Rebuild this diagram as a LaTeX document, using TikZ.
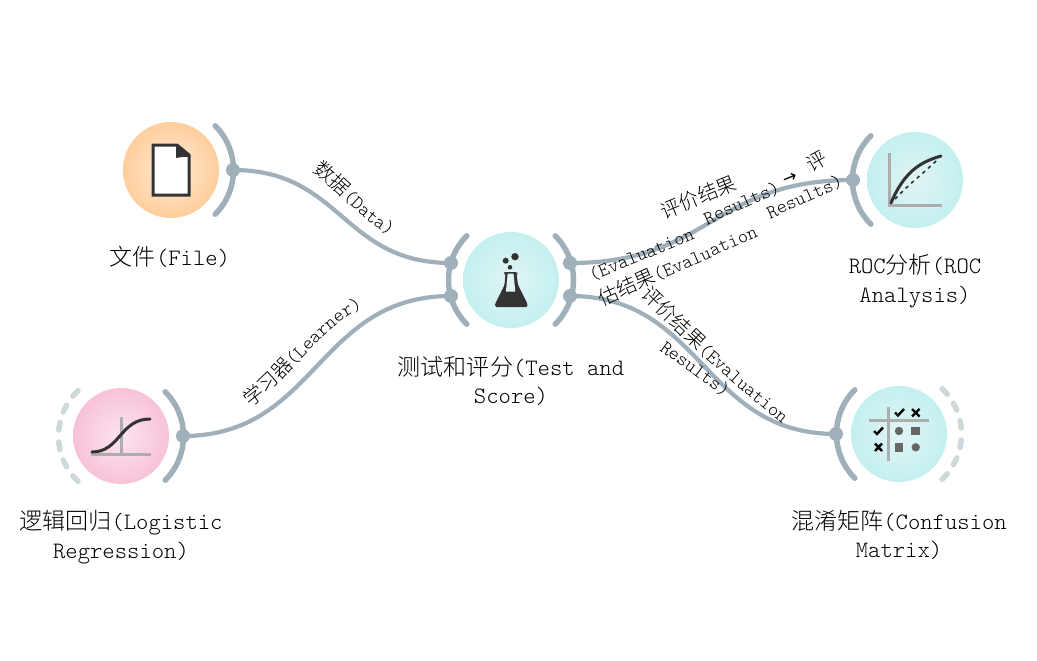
\documentclass[tikz,border=0pt]{standalone}
\usepackage{fontspec}
\usetikzlibrary{decorations.text}
\setmonofont{Latin Modern Mono Light}
\newfontfamily\cjk[Scale=0.98]{Noto Sans CJK SC Light}
\newfontfamily\arrowfont{DejaVu Sans}
\newcommand{\Z}[1]{{\cjk #1}}
\newcommand{\Lz}{\fontsize{20.4}{20.4}\selectfont\cjk}
\newcommand{\Lt}{\fontsize{19.3}{19.3}\selectfont\ttfamily}
\newcommand{\La}{\fontsize{17}{17}\selectfont\arrowfont}
\definecolor{wire}{HTML}{9FB0BA}
\definecolor{ghost}{HTML}{CFD8DB}
\definecolor{ink}{HTML}{333333}
\definecolor{axiscol}{HTML}{ADADAD}
\definecolor{markcol}{HTML}{666666}
\definecolor{tealin}{HTML}{E2F5F5}
\definecolor{tealout}{HTML}{C3F0EF}
\definecolor{orgin}{HTML}{FFEBD6}
\definecolor{orgout}{HTML}{FFCE9C}
\definecolor{pinkin}{HTML}{FBE4EF}
\definecolor{pinkout}{HTML}{F8C2D9}
\tikzset{
  widget/.style={circle,minimum size=96pt,inner sep=0pt,draw=none},
  tealw/.style={widget,inner color=tealin,outer color=tealout},
  orangew/.style={widget,inner color=orgin,outer color=orgout},
  pinkw/.style={widget,inner color=pinkin,outer color=pinkout},
  ear/.style={draw=wire,line width=5.5pt,line cap=round},
  ghostear/.style={draw=ghost,line width=5.5pt,line cap=round},
  portdot/.style={circle,fill=wire,minimum size=14pt,inner sep=0pt,draw=none},
  link/.style={draw=wire,line width=4.2pt},
  nametext/.style={font=\fontsize{23.5}{28.5}\selectfont\ttfamily,align=center,inner sep=0pt,text=black},
  along/.style={decorate,decoration={text along path,text={#1},text align=left}},
  axisline/.style={draw=axiscol,line width=3pt},
  curveline/.style={draw=ink,line width=3pt,line cap=round},
  ticks/.style={draw=black,line width=2.4pt},
}
\begin{document}
\begin{tikzpicture}[x=1pt,y=-1pt]
\useasboundingbox (0,0) rectangle (1037,661);
\fill[white] (0,0) rectangle (1037,661);

% widgets
\node[orangew] (file) at (171,170) {};
\node[pinkw] (logit) at (121,436) {};
\node[tealw] (test) at (511,280) {};
\node[tealw] (roc) at (915,180) {};
\node[tealw] (conf) at (899,434) {};

% ears
\draw[ear] (file.center) ++(-45:62.5pt) arc[start angle=-45,end angle=45,radius=62.5pt];
\draw[ear] (logit.center) ++(-45:62.5pt) arc[start angle=-45,end angle=45,radius=62.5pt];
\draw[ear] (test.center) ++(-45:62.5pt) arc[start angle=-45,end angle=45,radius=62.5pt];
\draw[ear] (test.center) ++(135:62.5pt) arc[start angle=135,end angle=225,radius=62.5pt];
\draw[ear] (roc.center) ++(135:62.5pt) arc[start angle=135,end angle=225,radius=62.5pt];
\draw[ear] (conf.center) ++(135:62.5pt) arc[start angle=135,end angle=225,radius=62.5pt];
\foreach \a in {-43,-26,-9,9,26,43}{
  \draw[ghostear] (conf.center) ++(\a-3.5:62.5pt) arc[start angle=\a-3.5,end angle=\a+3.5,radius=62.5pt];
  \draw[ghostear] (logit.center) ++(180+\a-3.5:62.5pt) arc[start angle=180+\a-3.5,end angle=180+\a+3.5,radius=62.5pt];
}

% ports
\node[portdot] (fileout) at (233,170) {};
\node[portdot] (logitout) at (183,436) {};
\node[portdot] (testina) at (451,263) {};
\node[portdot] (testinb) at (451,296) {};
\node[portdot] (testouta) at (570,263) {};
\node[portdot] (testoutb) at (570,296) {};
\node[portdot] (rocin) at (853,180) {};
\node[portdot] (confin) at (836,434) {};

% links
\draw[link] (fileout.center) .. controls +(109,0) and +(-109,0) .. (testina.center);
\draw[link] (logitout.center) .. controls +(134,0) and +(-134,0) .. (testinb.center);
\draw[link] (testouta.center) .. controls +(141,0) and +(-141,0) .. (rocin.center);
\draw[link] (testoutb.center) .. controls +(133,0) and +(-133,0) .. (confin.center);

% file icon
\draw[draw=ink,fill=white,line width=3pt,line join=miter] (153,145) -- (177,145) -- (189,155) -- (189,195) -- (153,195) -- cycle;
\fill[ink] (176,145) -- (190,155.5) -- (190,157) .. controls (186,156.5) and (181,157) .. (176,158) -- cycle;

% logistic icon
\draw[axisline] (121,417) -- (121,455);
\draw[axisline] (91,454) -- (151,454);
\draw[curveline] (92,452) .. controls (120,452) and (120,419) .. (150,419);

% flask icon
\fill[ink] (515,256.7) circle (3.7);
\fill[ink] (505.7,260.7) circle (3);
\fill[ink] (510,267.3) circle (2.3);
\fill[ink,rounded corners=1.5pt] (504,272) -- (517,272) -- (517,273.5) -- (516.5,273.5) -- (518,285) -- (527.5,304) -- (527.5,307) -- (495,307) -- (495,304) -- (504.5,285) -- (505.5,273.5) -- (504,273.5) -- cycle;
\fill[tealin] (507.7,273.5) -- (513.5,273.5) -- (515.3,291.5) -- (505.9,291.5) -- cycle;

% ROC icon
\draw[axisline] (889.5,153) -- (889.5,206.5);
\draw[axisline] (888,205.5) -- (942,205.5);
\draw[draw=ink,line width=1.6pt,dash pattern=on 3.5pt off 4pt] (895,199) .. controls (908,185) and (925,172) .. (937,160);
\draw[curveline] (891,203) .. controls (904,172) and (920,162) .. (941,156);

% confusion icon
\draw[axisline] (888.3,407) -- (888.3,461);
\draw[axisline] (869,420.3) -- (929,420.3);
\draw[ticks] (895,412.5) -- (898,415.5) -- (904,409);
\draw[ticks] (874,431) -- (877,434) -- (883,427.5);
\draw[ticks] (912,409) -- (919.5,416.5) (919.5,409) -- (912,416.5);
\draw[ticks] (875,443.5) -- (882,451) (882,443.5) -- (875,451);
\fill[markcol] (899,431) circle (4.2);
\fill[markcol] (911.3,426.6) rectangle (920.1,435.4);
\fill[markcol] (894.6,443) rectangle (903.4,451.8);
\fill[markcol] (915.7,447.3) circle (4.2);

% names
\node[nametext] (filename) at (170,257) {\Z{文件}(File)};
\node[nametext] (logitname) at (121,537) {\Z{逻辑回归}(Logistic\\Regression)};
\node[nametext] (testname) at (511,381) {\Z{测试和评分}(Test and\\Score)};
\node[nametext] (rocname) at (915,281) {ROC\Z{分析}(ROC\\Analysis)};
\node[nametext] (confname) at (899,535) {\Z{混淆矩阵}(Confusion\\Matrix)};

% link labels
\path[along={|\Lz|数据|\Lt|(Data)}] (312,172) .. controls (335,185) and (365,228) .. (405,243);
\path[along={|\Lz|学习器|\Lt|(Learner)}] (250,407) .. controls (290,380) and (320,325) .. (372,303);
\path[along={|\Lz|评价结果}] (664,219) -- (755,182);
\path[along={|\Lt|(Evaluation}] (592,281) -- (705,235);
\path[along={|\Lt|Results)}] (707,225) -- (790,188);
\path[along={|\La|→}] (785,185) -- (812,174);
\path[along={|\Lz|评}] (811,172) -- (840,156);
\path[along={|\Lz|估结果|\Lt|(Evaluation}] (602,306) .. controls (650,285) and (700,262) .. (760,236);
\path[along={|\Lt|Results)}] (770,219) -- (850,183);
\path[along={|\Lz|评价结果|\Lt|(Evaluation}] (640,296) .. controls (670,325) and (720,375) .. (790,430);
\path[along={|\Lt|Results)}] (659,350) -- (738,408);
\end{tikzpicture}
\end{document}
